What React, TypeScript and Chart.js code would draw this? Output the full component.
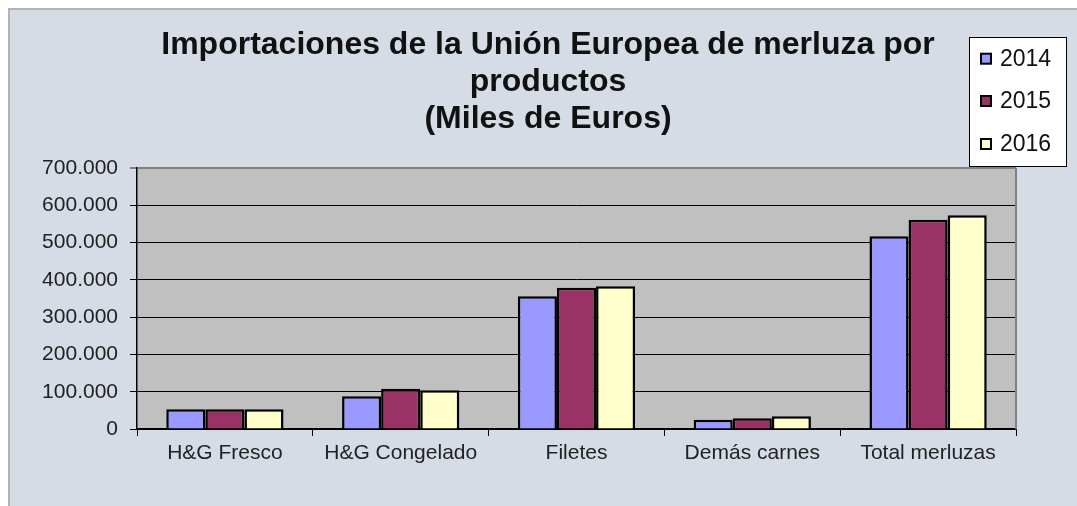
import React, { useEffect, useRef } from "react";
import { Chart, registerables } from "chart.js";

Chart.register(...registerables);

const categories = ["H&G Fresco", "H&G Congelado", "Filetes", "Demás carnes", "Total merluzas"];
const seriesNames = ["2014", "2015", "2016"];
const values2014 = [53000, 88000, 356000, 25000, 517000];
const values2015 = [53000, 108000, 379000, 29000, 561000];
const values2016 = [53000, 104000, 383000, 34000, 573000];
const seriesColors = ["#9999ff", "#993366", "#ffffcc"];
const titleLines = ["Importaciones de la Unión Europea de merluza por", "productos", "(Miles de Euros)"];

const FONT = "'Liberation Sans', Arial, sans-serif";

function fmt(v: number): string {
  return String(Math.round(v)).replace(/\B(?=(\d{3})+(?!\d))/g, ".");
}

const decorPlugin = {
  id: "decor",
  beforeDraw(chart: any) {
    const { ctx, chartArea: a } = chart;
    ctx.save();
    ctx.fillStyle = "#c0c0c0";
    ctx.fillRect(a.left, a.top, a.right - a.left, a.bottom - a.top);
    ctx.restore();
  },
  afterDatasetsDraw(chart: any) {
    const { ctx, chartArea: a } = chart;
    ctx.save();
    ctx.strokeStyle = "#808080";
    ctx.lineWidth = 2;
    ctx.beginPath();
    ctx.moveTo(a.right, a.top);
    ctx.lineTo(a.right, a.bottom);
    ctx.stroke();
    ctx.restore();
  },
  afterDraw(chart: any) {
    const { ctx } = chart;
    ctx.save();
    // title
    ctx.fillStyle = "#111";
    ctx.font = `bold 32px ${FONT}`;
    ctx.textAlign = "center";
    ctx.textBaseline = "alphabetic";
    const baselines = [44, 81, 118];
    titleLines.forEach((t, i) => ctx.fillText(t, 538, baselines[i]));
    // legend
    const bx = 959, by = 27, bw = 97, bh = 129;
    ctx.fillStyle = "#ffffff";
    ctx.fillRect(bx, by, bw, bh);
    ctx.strokeStyle = "#000";
    ctx.lineWidth = 1;
    ctx.strokeRect(bx + 0.5, by + 0.5, bw, bh);
    const rows = [48.7, 91, 134];
    chart.data.datasets.forEach((ds: any, i: number) => {
      const cy = rows[i];
      ctx.fillStyle = ds.backgroundColor;
      ctx.fillRect(971, cy - 5, 10, 10);
      ctx.lineWidth = 2;
      ctx.strokeStyle = "#000";
      ctx.strokeRect(971, cy - 5, 10, 10);
      ctx.fillStyle = "#111";
      ctx.font = `23px ${FONT}`;
      ctx.textAlign = "left";
      ctx.textBaseline = "middle";
      ctx.fillText(ds.label, 990, cy + 1);
    });
    ctx.restore();
  },
};

export default function App() {
  const ref = useRef<HTMLCanvasElement | null>(null);
  useEffect(() => {
    if (!ref.current) return;
    const datasets = [values2014, values2015, values2016].map((vals, i) => ({
      label: seriesNames[i],
      data: vals,
      backgroundColor: seriesColors[i],
      borderColor: "#000",
      borderWidth: 2.5,
      categoryPercentage: 0.667,
      barPercentage: 1,
    }));
    const chart = new Chart(ref.current, {
      type: "bar",
      data: { labels: categories, datasets },
      plugins: [decorPlugin],
      options: {
        animation: false,
        responsive: true,
        maintainAspectRatio: false,
        layout: { padding: { top: 158, right: 61, left: 0, bottom: 0 } },
        plugins: {
          legend: { display: false },
          title: { display: false },
          tooltip: { enabled: false },
        },
        scales: {
          x: {
            afterFit: (s: any) => { s.height = 77; },
            grid: { display: true, drawOnChartArea: false, drawTicks: true, tickLength: 7, offset: true, color: "#000", lineWidth: 1 },
            border: { display: true, color: "#000", width: 1.5 },
            ticks: { color: "#222", font: { family: FONT, size: 21 }, padding: 5, maxRotation: 0, autoSkip: false },
          },
          y: {
            min: 0,
            max: 700000,
            afterFit: (s: any) => { s.width = 127; },
            grid: {
              color: (c: any) => (c.tick && c.tick.value === 700000 ? "#808080" : "#000"),
              lineWidth: (c: any) => (c.tick && c.tick.value === 700000 ? 2 : 1),
              tickLength: 7,
              drawTicks: true,
            },
            border: { display: true, color: "#000", width: 1.5 },
            ticks: {
              stepSize: 100000,
              color: "#222",
              font: { family: FONT, size: 21 },
              padding: 12,
              callback: (v: any) => fmt(Number(v)),
            },
          },
        },
      },
    });
    return () => chart.destroy();
  }, []);
  return (
    <div
      style={{
        position: "fixed",
        left: 8,
        top: 8,
        width: 1069,
        height: 498,
        boxSizing: "border-box",
        background: "#d6dce5",
        borderLeft: "2px solid #b4b4b4",
        borderTop: "2px solid #b4b4b4",
      }}
    >
      <div style={{ position: "relative", width: 1067, height: 496 }}>
        <canvas ref={ref} />
      </div>
    </div>
  );
}
